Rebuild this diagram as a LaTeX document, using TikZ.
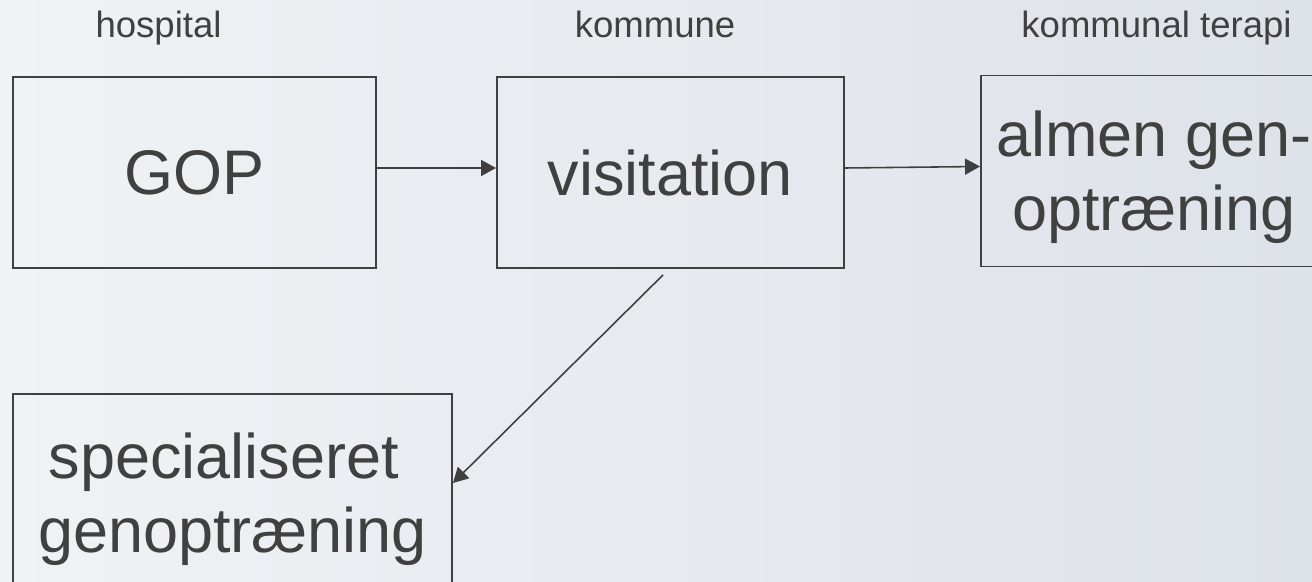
\documentclass[tikz,border=0pt]{standalone}
\usepackage{fontspec}
\setmainfont{Liberation Sans}
\usepackage{xcolor}
\usetikzlibrary{arrows.meta}
\usetikzlibrary{positioning}

\definecolor{ink}{HTML}{404040}
\definecolor{bgleft}{HTML}{F0F2F5}
\definecolor{bgright}{HTML}{DEE2E9}

\begin{document}
\begin{tikzpicture}[line width=1.1pt, draw=ink, text=ink,
    box/.style={draw=ink, rectangle, inner sep=0pt, align=center, text depth=0pt,
        minimum height=3.82cm, font=\fontsize{35.85pt}{42.3pt}\selectfont},
    lbl/.style={anchor=base, inner sep=0pt, font=\fontsize{20.8pt}{25pt}\selectfont},
    arr/.style={draw=ink, line width=0.9pt, -{Triangle[length=0.3cm, width=0.32cm]}}]
    % Background
    \shade[left color=bgleft, right color=bgright] (0,0) rectangle (26.24,-11.64);
    \useasboundingbox (0,0) rectangle (26.24,-11.64);
    \clip (0,0) rectangle (26.24,-11.64);

    % Headings
    \node[lbl] (hosp) at (3.17,-0.76) {hospital};
    \node[lbl] (komm) at (13.10,-0.76) {kommune};
    \node[lbl] (terapi) at (23.13,-0.76) {kommunal terapi};

    % Boxes
    \node[box, minimum width=7.26cm] (gop) at (3.89,-3.45) {GOP};
    \node[box, minimum width=6.94cm] (vis) at (13.41,-3.45) {visitation};
    \node[box, minimum width=6.92cm] (almen) at (23.08,-3.42) {almen gen-\\optræning};
    \node[box, minimum width=8.78cm, minimum height=3.94cm] (spec) at (4.65,-9.85)
        {specialiseret\hspace*{0.35cm}\\genoptræning};

    % Arrows
    \draw[arr] ([yshift=0.09cm]gop.east) -- ([yshift=0.09cm]vis.west);
    \draw[arr] ([yshift=0.09cm]vis.east) -- ([yshift=0.09cm]almen.west);
    \draw[arr] ([xshift=-0.15cm, yshift=-0.12cm]vis.south) -- ([yshift=0.19cm]spec.east);
\end{tikzpicture}
\end{document}
